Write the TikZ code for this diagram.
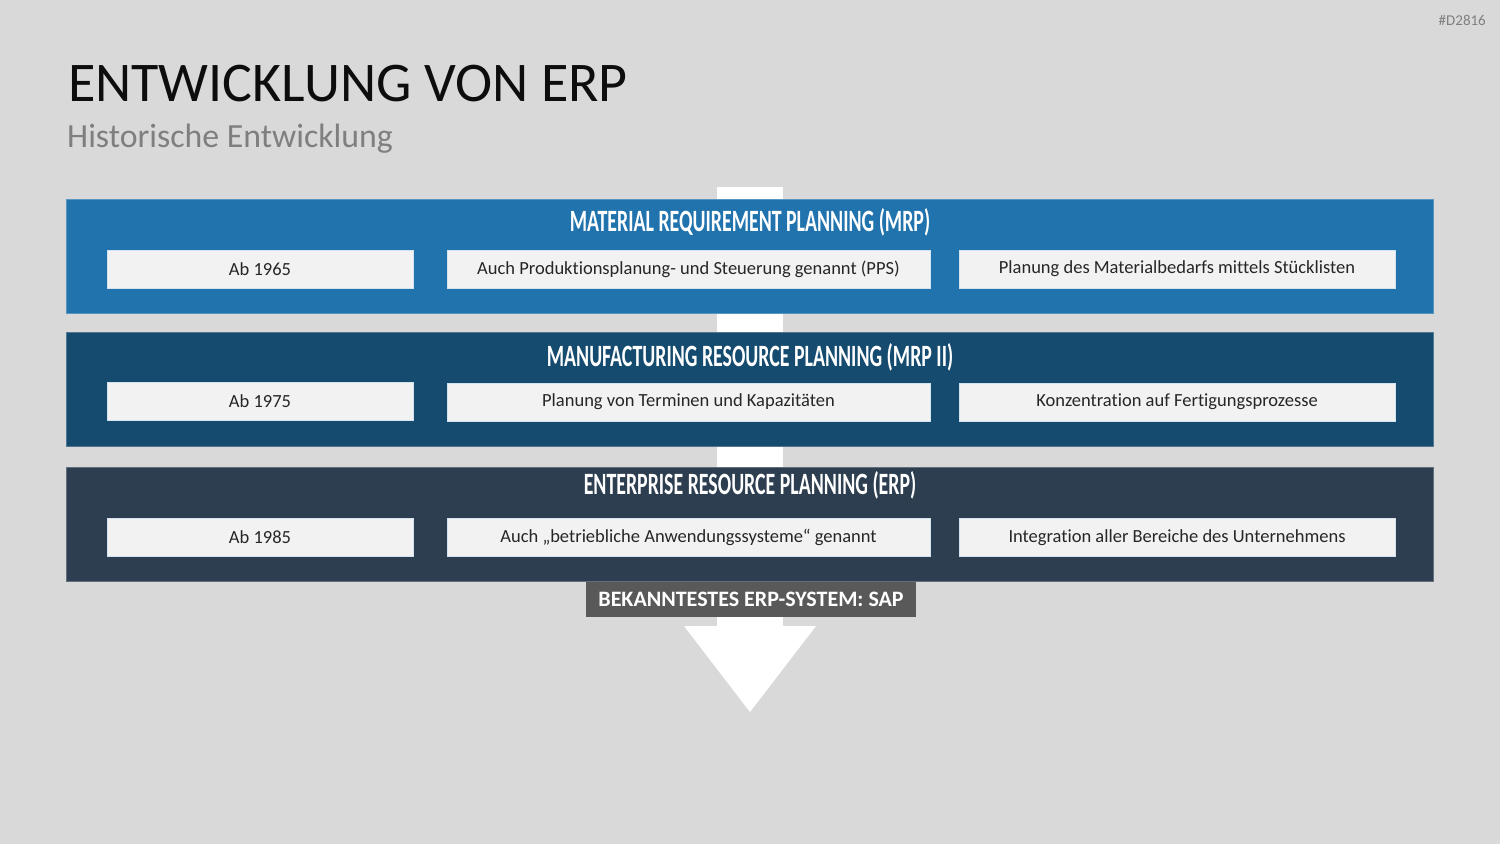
\documentclass[tikz,border=0pt]{standalone}
\usepackage{fontspec}
\setmainfont{Carlito}[Ligatures=NoCommon]
\newfontfamily\headfont{Carlito}[FakeStretch=0.64,Ligatures=NoCommon]
\definecolor{bg}{HTML}{D9D9D9}
\definecolor{bandA}{HTML}{2173AD}
\definecolor{bandB}{HTML}{154B6F}
\definecolor{bandC}{HTML}{2C3E50}
\definecolor{boxfill}{HTML}{F2F2F2}
\definecolor{labelgray}{HTML}{595959}
\definecolor{subgray}{HTML}{7F7F7F}
\begin{document}
\begin{tikzpicture}[x=1pt,y=-1pt,
  band/.style={draw=#1!75!white, line width=0.8pt, fill=#1, minimum width=1367pt, minimum height=114pt, inner sep=0pt},
  headtxt/.style={text=white, font=\headfont\bfseries\fontsize{31}{31}\selectfont, inner sep=0pt},
  infobox/.style={draw=white!80!bandA, line width=0.6pt, fill=boxfill, minimum height=38pt, inner sep=0pt, text=black!85, font=\fontsize{18.5}{20}\selectfont},
  colA/.style={infobox, minimum width=306pt},
  colB/.style={infobox, minimum width=483pt},
  colC/.style={infobox, minimum width=436pt}]
\useasboundingbox[fill=bg] (0,0) rectangle (1500,844);

% tag
\node[anchor=east, text=subgray, font=\fontsize{15}{16}\selectfont, inner sep=0pt] (tag) at (1486,20) {\#D2816};

% title
\node[anchor=base west, inner sep=0pt, text=black!95, font=\fontsize{56}{60}\selectfont] (title) at (68,101) {ENTWICKLUNG VON ERP};
\node[anchor=base west, inner sep=0pt, text=subgray, font=\fontsize{33.8}{36}\selectfont] (subtitle) at (67,147) {Historische Entwicklung};

% white arrow
\fill[white] (717,187) rectangle (783,627);
\fill[white] (684,626) -- (816,626) -- (750,712) -- cycle;

% bands
\node[band=bandA] (b1) at (749.5,256) {};
\node[band=bandB] (b2) at (749.5,389) {};
\node[band=bandC] (b3) at (749.5,524) {};

\node[headtxt] (h1) at (750,222) {MATERIAL REQUIREMENT PLANNING (MRP)};
\node[headtxt] (h2) at (750,357) {MANUFACTURING RESOURCE PLANNING (MRP II)};
\node[headtxt] (h3) at (750,485) {ENTERPRISE RESOURCE PLANNING (ERP)};

% row 1
\node[colA] (r1a) at (260,269) {Ab 1965};
\node[colB] (r1b) at (688.5,269) {Auch Produktionsplanung- und Steuerung genannt (PPS)};
\node[colC] (r1c) at (1177,269) {Planung des Materialbedarfs mittels Stücklisten};
% row 2
\node[colA] (r2a) at (260,401) {Ab 1975};
\node[colB] (r2b) at (688.5,402) {Planung von Terminen und Kapazitäten};
\node[colC] (r2c) at (1177,402) {Konzentration auf Fertigungsprozesse};
% row 3
\node[colA] (r3a) at (260,537) {Ab 1985};
\node[colB] (r3b) at (688.5,537.5) {Auch „betriebliche Anwendungssysteme“ genannt};
\node[colC] (r3c) at (1177,537.5) {Integration aller Bereiche des Unternehmens};

% label
\node[fill=labelgray, minimum width=330pt, minimum height=35pt, inner sep=0pt, text=white, font=\bfseries\fontsize{22}{24}\selectfont] (sap) at (751,599) {BEKANNTESTES ERP-SYSTEM: SAP};
\end{tikzpicture}
\end{document}
